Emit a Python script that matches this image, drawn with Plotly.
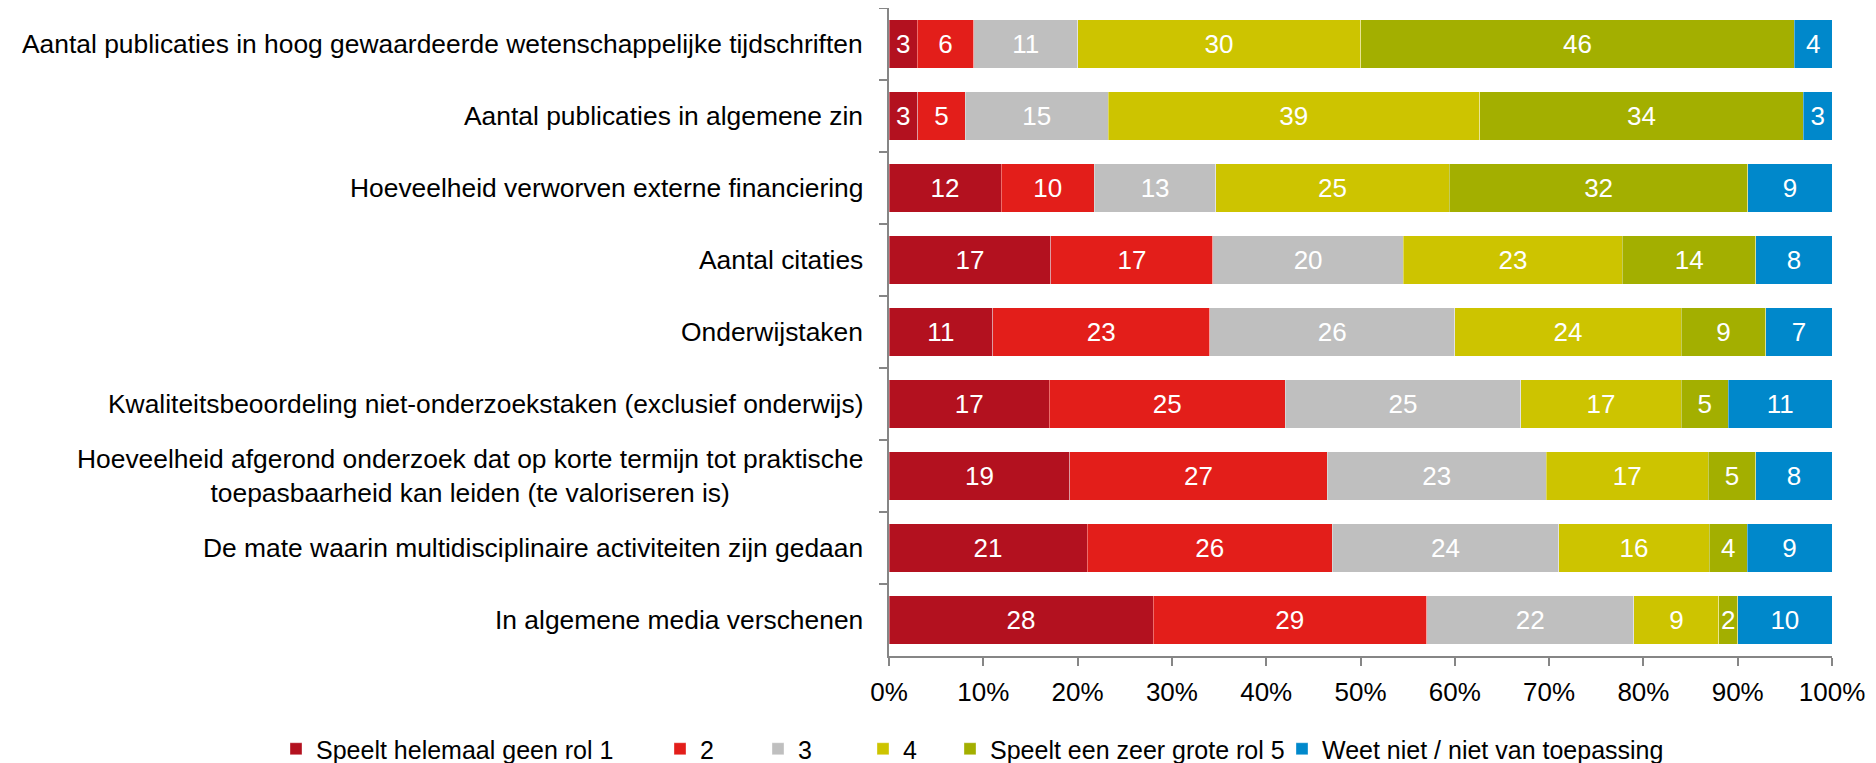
import plotly.graph_objects as go

categories = [
    "Aantal publicaties in hoog gewaardeerde wetenschappelijke tijdschriften",
    "Aantal publicaties in algemene zin",
    "Hoeveelheid verworven externe financiering",
    "Aantal citaties",
    "Onderwijstaken",
    "Kwaliteitsbeoordeling niet-onderzoekstaken (exclusief onderwijs)",
    "Hoeveelheid afgerond onderzoek dat op korte termijn tot praktische<br>toepasbaarheid kan leiden (te valoriseren is)",
    "De mate waarin multidisciplinaire activiteiten zijn gedaan",
    "In algemene media verschenen",
]

series_names = [
    "Speelt helemaal geen rol 1",
    "2",
    "3",
    "4",
    "Speelt een zeer grote rol 5",
    "Weet niet / niet van toepassing",
]

rol1 = [3, 3, 12, 17, 11, 17, 19, 21, 28]
rol2 = [6, 5, 10, 17, 23, 25, 27, 26, 29]
rol3 = [11, 15, 13, 20, 26, 25, 23, 24, 22]
rol4 = [30, 39, 25, 23, 24, 17, 17, 16, 9]
rol5 = [46, 34, 32, 14, 9, 5, 5, 4, 2]
weet_niet = [4, 3, 9, 8, 7, 11, 8, 9, 10]

series_values = [rol1, rol2, rol3, rol4, rol5, weet_niet]
colors = ["#B3111F", "#E31E1A", "#BFBFBF", "#CDC400", "#A3AF00", "#0088CB"]

x_tick_values = [0, 10, 20, 30, 40, 50, 60, 70, 80, 90, 100]
x_tick_labels = ["0%", "10%", "20%", "30%", "40%", "50%", "60%", "70%", "80%", "90%", "100%"]

FONT = "Arial, Liberation Sans, sans-serif"
FS = 26

# the page adds an 8px body margin; figure width reduced so it fits
W, H = 1868, 763
legend_left_px = [268, 652, 750, 855, 942, 1274]
legend_ids = ["legend", "legend2", "legend3", "legend4", "legend5", "legend6"]

fig = go.Figure()
for name, vals, col, lid in zip(series_names, series_values, colors, legend_ids):
    fig.add_trace(go.Bar(
        name=name,
        y=categories,
        x=vals,
        orientation="h",
        text=vals,
        texttemplate="%{text}",
        textposition="inside",
        insidetextanchor="middle",
        textangle=0,
        insidetextfont=dict(color="white", size=FS, family=FONT),
        marker=dict(color=col, line=dict(color="rgba(255,255,255,0.35)", width=1)),
        legend=lid,
    ))

for cat in categories:
    fig.add_annotation(
        x=0, xref="paper", y=cat, yref="y",
        text=cat, showarrow=False,
        xanchor="right", yanchor="middle", align="center",
        xshift=-24,
        font=dict(size=26.4, family=FONT, color="black"),
    )

legend_layout = {}
for lid, px in zip(legend_ids, legend_left_px):
    legend_layout[lid] = dict(
        orientation="h",
        xref="container", yref="container",
        x=px / W, xanchor="left",
        y=1 - 741 / H, yanchor="middle",
        font=dict(size=25, family=FONT, color="black"),
        bgcolor="rgba(0,0,0,0)",
        itemwidth=30,
    )

fig.update_layout(
    width=W, height=H,
    margin=dict(l=881, r=44, t=0, b=115),
    barmode="stack", barnorm="percent", bargap=0.333,
    plot_bgcolor="white", paper_bgcolor="white",
    font=dict(family=FONT, size=FS, color="black"),
    uniformtext=dict(minsize=FS, mode="show"),
    showlegend=True,
    **legend_layout,
)

fig.update_xaxes(
    range=[0, 100], tickvals=x_tick_values, ticktext=x_tick_labels,
    showgrid=False, zeroline=False,
    showline=True, linecolor="#868686", linewidth=1.5,
    ticks="outside", ticklen=8, tickcolor="#868686", tickwidth=1.5,
    ticklabelstandoff=4,
    tickfont=dict(size=FS, family=FONT, color="black"),
)
fig.update_yaxes(
    type="category", autorange="reversed",
    showticklabels=False, showgrid=False, zeroline=False,
    showline=True, linecolor="#868686", linewidth=1.5,
    ticks="outside", tickson="boundaries", ticklen=8, tickcolor="#868686", tickwidth=1.5,
)

fig.write_html("out.html")
